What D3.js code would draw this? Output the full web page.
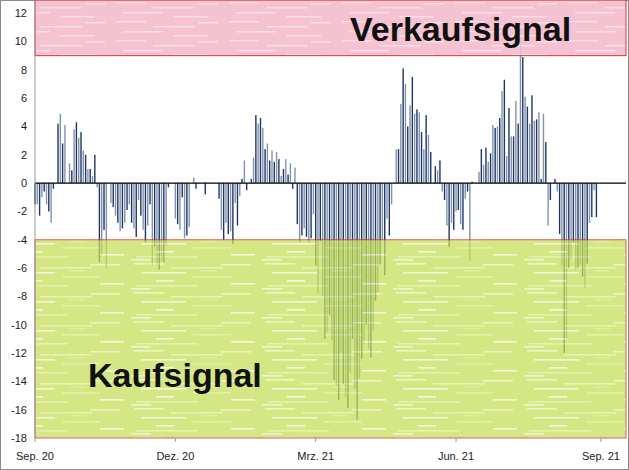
<!DOCTYPE html>
<html><head><meta charset="utf-8">
<script src="https://cdn.jsdelivr.net/npm/d3@7/dist/d3.min.js"></script>
<style>body{margin:0;background:#fff}svg{display:block}</style></head>
<body><svg id="c" width="629" height="470"></svg>
<script>
const values = [
-1.5,-1.5,-2.3,-1,-0.6,-1.5,-2,-2.8,-0.4,0,
4.2,4.9,2.8,4.1,0,1.4,0.9,3.8,4.3,3.2,3.6,2.3,2.0,1.0,1.0,0.5,2.0,
-0.3,
-5.6,-5.1,-3.3,-6.0,
0,
-1.4,-1.7,-2.3,-2.8,-3.4,
-3.2,-2.8,-1.9,-1.5,
-2.8,-3.2,-3.8,-1.2,
-2.3,-3.3,-4.2,-3.0,-1.5,
-5.8,-4.5,-5.8,-6.1,-5.5,-5.6,-4.4,
-0.3,0,0,
-2.5,-2.9,-3.3,
-1.0,-3.9,-3.7,-3.1,0,
0.4,-0.4,
0,0,0,-0.8,0,0,0,0,0,
-1.1,-3.3,-4.0,-2.8,-3.6,-3.4,-4.3,-1.4,-3.0,
-0.9,0.3,1.6,-0.5,0,
0.3,1.8,4.8,4.2,4.6,3.9,2.4,2.8,1.6,
2.3,1.5,2.2,1.7,0.5,1.0,1.7,0.6,1.4,
-0.4,
1.1,-2.9,-4.2,-3.7,-3.2,-3.8,-4.2,-3.9,-2.2,
-5.8,-7.8,-4.1,-8.0,-11.0,-10.5,
-9.3,-11.1,-13.9,-14.3,-15.3,-12.0,
-14.2,-15.1,-15.9,-13.4,-11.0,-14.5,
-16.7,-13.8,-12.4,-11.4,-10.0,
-11.7,-12.3,-10.4,-8.3,-7.7,-5.8,-4.0,-6.5,
-2.5,-3.7,-1.5,0,
2.4,2.4,5.6,8.1,7.0,4.0,5.5,7.5,4.9,5.2,
5.0,3.6,2.4,4.8,3.4,2.2,0,
1.2,0.9,1.6,-0.6,
-1.2,-3.0,-4.5,-2.8,-3.3,
-2.0,-1.9,-2.9,-3.3,
-1.1,-0.6,-5.5,0.1,0,0,
0.8,2.4,1.3,2.5,1.5,2.1,4.1,3.9,4.0,4.6,6.5,7.3,1.9,5.3,
3.3,3.3,5.8,4.2,10.0,8.9,6.1,5.4,
4.2,6.2,4.4,4.5,5.0,0.3,4.9,2.9,
-3.0,-1.2,0,
0.3,-0.6,
-3.6,-5.8,-12.0,-11.0,-6.0,-5.3,
-4.2,-6.1,-6.0,-5.8,-6.6,
-7.4,-5.7,-2.8,-2.4,-0.5,-2.4
];
const tickLabels = ["Sep. 20","Dez. 20","Mrz. 21","Jun. 21","Sep. 21"];
const tickIndex = [0,61,122,183,246];
const yTicks = [-18,-16,-14,-12,-10,-8,-6,-4,-2,0,2,4,6,8,10,12];
const sellLevel = 9, buyLevel = -4;

const svg = d3.select("#c");
const L=35, R=626, T=0, B=438;
const x = d3.scaleLinear().domain([0,246]).range([35,601]);
const y = d3.scaleLinear().domain([-18,12.93]).range([B,T]);

svg.append("rect").attr("x",0.5).attr("y",0.5).attr("width",628).attr("height",469).attr("fill","#fff").attr("stroke","#8a8a8a");

const defs = svg.append("defs");
const gp = defs.append("pattern").attr("id","gp").attr("patternUnits","userSpaceOnUse").attr("width",131).attr("height",29);
gp.append("rect").attr("width",131).attr("height",29).attr("fill","#c6df55");
[[3,2,30,"#e6f3ad"],[40,6,52,"#def08f"],[10,11,45,"#eaf6c0"],[62,15,38,"#d9ec86"],[25,19,18,"#f0f8d2"],[90,3,30,"#e3f1a3"],[5,24,62,"#dcee8c"],[100,22,24,"#eef7cb"],[70,9,16,"#d2e874"],[0,27,20,"#e8f4b5"]].forEach(([a,b,w,c])=>gp.append("rect").attr("x",a).attr("y",b).attr("width",w).attr("height",1.6).attr("fill",c));
const pp = defs.append("pattern").attr("id","pp").attr("patternUnits","userSpaceOnUse").attr("width",113).attr("height",19);
pp.append("rect").attr("width",113).attr("height",19).attr("fill","#f3bccb");
[[3,2,30],[40,7,42],[10,12,40],[60,16,35],[85,3,20]].forEach(([a,b,w])=>pp.append("rect").attr("x",a).attr("y",b).attr("width",w).attr("height",1.5).attr("fill","#f8dbe3"));

// bars
svg.append("g").selectAll("rect").data(values).join("rect")
  .attr("x",(d,i)=>x(i)-0.7).attr("width",1.4)
  .attr("y",d=>y(Math.max(0,d))).attr("height",d=>Math.abs(y(d)-y(0)))
  .attr("fill",(d,i)=>i%2?"#8193ad":"#1f3766");

// bands on top
svg.append("rect").attr("x",L).attr("y",y(12.93)).attr("width",R-L).attr("height",y(sellLevel)-y(12.93))
  .attr("fill","url(#pp)").attr("opacity",0.9).attr("stroke","#d02020").attr("stroke-width",1);
svg.append("rect").attr("x",L).attr("y",y(buyLevel)).attr("width",R-L).attr("height",y(-18)-y(buyLevel))
  .attr("fill","url(#gp)").attr("opacity",0.72).attr("stroke","#d02020").attr("stroke-width",1);

// zero line
svg.append("line").attr("x1",L).attr("x2",R).attr("y1",y(0)).attr("y2",y(0)).attr("stroke","#000").attr("stroke-width",1.2);
svg.append("line").attr("x1",L).attr("x2",L).attr("y1",T).attr("y2",B).attr("stroke","#999");

// axes
svg.append("g").selectAll("text").data(yTicks).join("text")
  .attr("x",27).attr("y",d=>y(d)+4).attr("text-anchor","end")
  .attr("font-family","Liberation Sans, Arial").attr("font-size",11).attr("fill","#222").text(d=>d);
svg.append("g").selectAll("text").data(tickLabels).join("text")
  .attr("x",(d,i)=>x(tickIndex[i])).attr("y",460).attr("text-anchor","middle")
  .attr("font-family","Liberation Sans, Arial").attr("font-size",11).attr("fill","#222").text(d=>d);
svg.append("g").selectAll("line").data(tickIndex).join("line")
  .attr("x1",d=>x(d)).attr("x2",d=>x(d)).attr("y1",B).attr("y2",B+4).attr("stroke","#999");

svg.append("text").attr("x",350).attr("y",41).attr("font-family","Liberation Sans, Arial").attr("font-weight","bold").attr("font-size",34).attr("fill","#111").text("Verkaufsignal");
svg.append("text").attr("x",88).attr("y",387).attr("font-family","Liberation Sans, Arial").attr("font-weight","bold").attr("font-size",34).attr("fill","#111").text("Kaufsignal");
</script></body></html>
